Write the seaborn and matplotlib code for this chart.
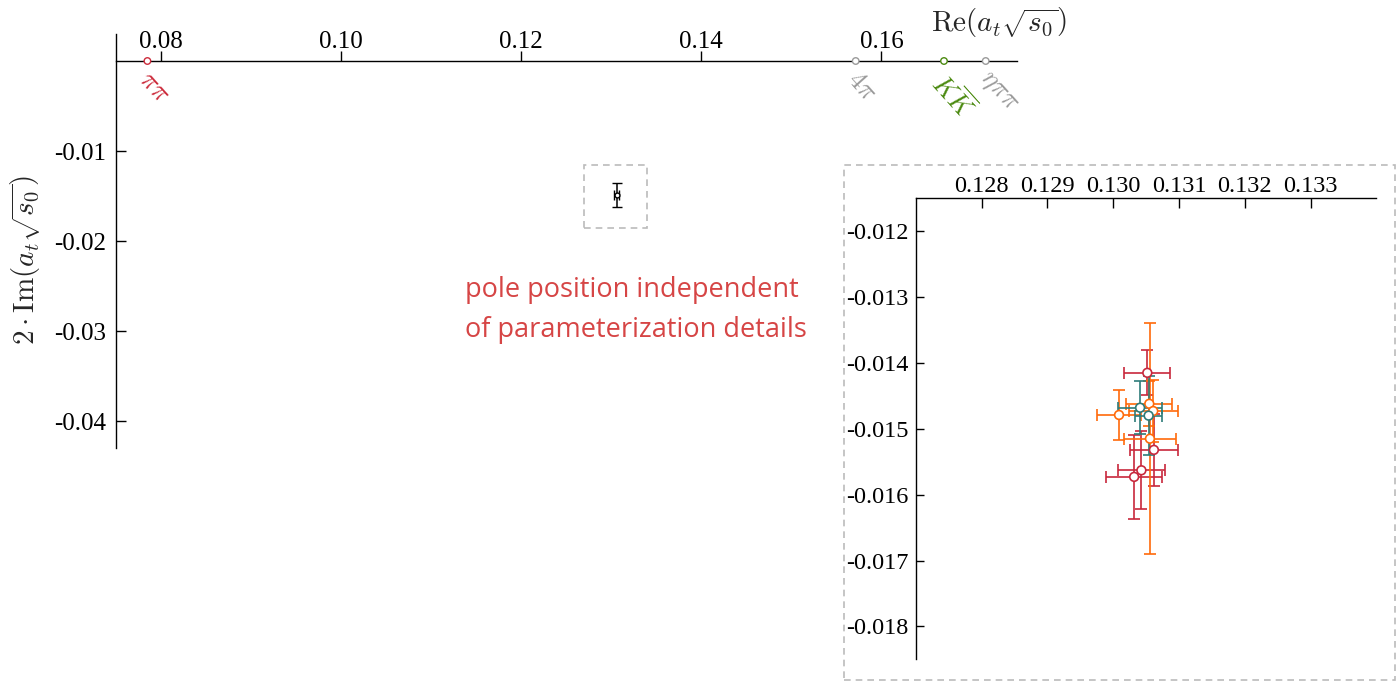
import numpy as np
import pandas as pd
import matplotlib
matplotlib.use("Agg")
import matplotlib.pyplot as plt
import matplotlib.patches as patches
import seaborn as sns

# thresholds on the real axis
thresh_labels = [r'$\pi\pi$', r'$4\pi$', r'$K\overline{K}$', r'$\eta\pi\pi$']
thresh_re = [0.07852, 0.15714, 0.16694, 0.17157]
thresh_colors = ['#cc2a3a', '#9a9a9a', '#4b8a10', '#9a9a9a']

# summary pole in the main panel
pole_re = 0.13060
pole_im = -0.01490
pole_re_err = 0.0003
pole_im_err = 0.00136

# individual parameterizations (inset)
fit_family = ['A', 'B', 'C', 'B', 'B', 'C', 'B', 'A', 'A', 'A']
fit_re = [0.13052, 0.13055, 0.13041, 0.13061, 0.13009, 0.13054, 0.13056, 0.13062, 0.13043, 0.13032]
fit_im = [-0.01415, -0.01462, -0.01468, -0.01473, -0.01479, -0.01480, -0.01515, -0.01532, -0.01563, -0.01573]
fit_re_err = [0.00035, 0.00035, 0.00034, 0.00037, 0.00034, 0.00020, 0.00039, 0.00036, 0.00036, 0.00043]
fit_im_err = [0.00034, 0.00034, 0.00040, 0.00047, 0.00038, 0.00060, 0.00175, 0.00055, 0.00059, 0.00064]
family_colors = {'A': '#c8283c', 'B': '#ff6a0a', 'C': '#2e7c79'}

main_xticks = [0.08, 0.10, 0.12, 0.14, 0.16]
main_yticks = [-0.01, -0.02, -0.03, -0.04]
inset_xticks = [0.128, 0.129, 0.130, 0.131, 0.132, 0.133]
inset_yticks = [-0.012, -0.013, -0.014, -0.015, -0.016, -0.017, -0.018]

sns.set_theme(style='white')
plt.rcParams['font.family'] = ['Liberation Serif', 'DejaVu Serif']
plt.rcParams['mathtext.fontset'] = 'cm'
plt.rcParams['axes.unicode_minus'] = False

W, H = 1400, 685
fig = plt.figure(figsize=(14, 6.85), dpi=100)


def fx(px):
    return px / W


def fy(py):
    return 1 - py / H


# ---- main panel ----
ax = fig.add_axes([fx(115.7), fy(448), fx(1016.6) - fx(115.7), fy(34) - fy(448)])
ax.set_xlim(0.075, 0.175)
ax.set_ylim(-0.043, 0.003)
ax.spines['right'].set_visible(False)
ax.spines['bottom'].set_visible(False)
ax.spines['top'].set_position(('data', 0))
for s in ['top', 'left']:
    ax.spines[s].set_color('black')
    ax.spines[s].set_linewidth(1.0)
ax.xaxis.tick_top()
ax.set_xticks(main_xticks)
ax.set_xticklabels([f'{v:.2f}' for v in main_xticks])
ax.set_yticks(main_yticks)
ax.set_yticklabels([f'{v:.2f}' for v in main_yticks])
ax.tick_params(axis='x', direction='out', length=7, width=1, pad=-1, labelsize=18, colors='black')
ax.tick_params(axis='y', direction='in', length=7, width=1, pad=7, labelsize=18, colors='black', left=True)
ax.set_facecolor('white')

th_df = pd.DataFrame({'re': thresh_re, 'im': [0.0] * len(thresh_re), 'name': thresh_labels})
sns.scatterplot(data=th_df, x='re', y='im', hue='name', palette=thresh_colors, s=22,
                linewidth=1.0, legend=False, ax=ax, zorder=5, clip_on=False)
coll = ax.collections[-1]
coll.set_edgecolors(thresh_colors)
coll.set_facecolors('white')
for name, xv, c in zip(thresh_labels, thresh_re, thresh_colors):
    ax.annotate(name, (xv, 0), xytext=(3, -5), textcoords='offset points',
                rotation=-48, rotation_mode='anchor', ha='left', va='top',
                color=c, fontsize=19)

ax.errorbar([pole_re], [pole_im], xerr=[pole_re_err], yerr=[pole_im_err], fmt='o',
            color='black', mfc='white', mec='black', ms=3.5, mew=1, elinewidth=1.1,
            capsize=3.5, capthick=1.1)
ax.add_patch(patches.Rectangle((0.127, -0.0185), 0.007, 0.007, fill=False,
                               ec='#bbbbbb', lw=1.2, ls=(0, (4, 3))))
ax.set_xlabel('')
ax.set_ylabel('')

fig.text(fx(1067), fy(22), r'$\mathrm{Re}\left(a_t\sqrt{s_0}\right)$', ha='right', va='center',
         fontsize=21)
fig.text(fx(25), fy(260), r'$2\cdot\mathrm{Im}\left(a_t\sqrt{s_0}\right)$', ha='center',
         va='center', rotation=90, fontsize=21)
fig.text(fx(465), fy(276), 'pole position independent\nof parameterization details',
         ha='left', va='top', color='#d64545', fontsize=19.5, family=['Open Sans', 'DejaVu Sans'],
         linespacing=1.58)

# ---- inset ----
fig.patches.append(patches.Rectangle((fx(844), fy(680)), fx(1395) - fx(844), fy(165) - fy(680),
                                     transform=fig.transFigure, fill=False, ec='#bbbbbb',
                                     lw=1.2, ls=(0, (4, 3))))
ax2 = fig.add_axes([fx(915.7), fy(659.3), fx(1376.3) - fx(915.7), fy(198.3) - fy(659.3)])
ax2.set_xlim(0.127, 0.134)
ax2.set_ylim(-0.0185, -0.0115)
ax2.spines['right'].set_visible(False)
ax2.spines['bottom'].set_visible(False)
for s in ['top', 'left']:
    ax2.spines[s].set_color('black')
    ax2.spines[s].set_linewidth(1.0)
ax2.xaxis.tick_top()
ax2.set_xticks(inset_xticks)
ax2.set_xticklabels([f'{v:.3f}' for v in inset_xticks])
ax2.set_yticks(inset_yticks)
ax2.set_yticklabels([f'{v:.3f}' for v in inset_yticks])
ax2.tick_params(axis='x', direction='in', length=7, width=1, pad=1, labelsize=17.5, colors='black', top=True)
ax2.tick_params(axis='y', direction='in', length=6, width=1, pad=5, labelsize=17.5, colors='black', left=True)
ax2.set_facecolor('white')
ax2.patch.set_alpha(0)

df = pd.DataFrame({'re': fit_re, 'im': fit_im, 're_err': fit_re_err,
                   'im_err': fit_im_err, 'family': fit_family})
for fam, g in df.groupby('family'):
    ax2.errorbar(g['re'], g['im'], xerr=g['re_err'], yerr=g['im_err'], fmt='none',
                 ecolor=family_colors[fam], elinewidth=1.2, capsize=4, capthick=1.2,
                 zorder=2)
sns.scatterplot(data=df, x='re', y='im', hue='family', palette=family_colors, s=40,
                linewidth=1.2, legend=False, ax=ax2, zorder=4)
coll = ax2.collections[-1]
coll.set_edgecolors(coll.get_facecolors())
coll.set_facecolors('white')
ax2.set_xlabel('')
ax2.set_ylabel('')

fig.savefig('out.png', dpi=100, facecolor='white')
